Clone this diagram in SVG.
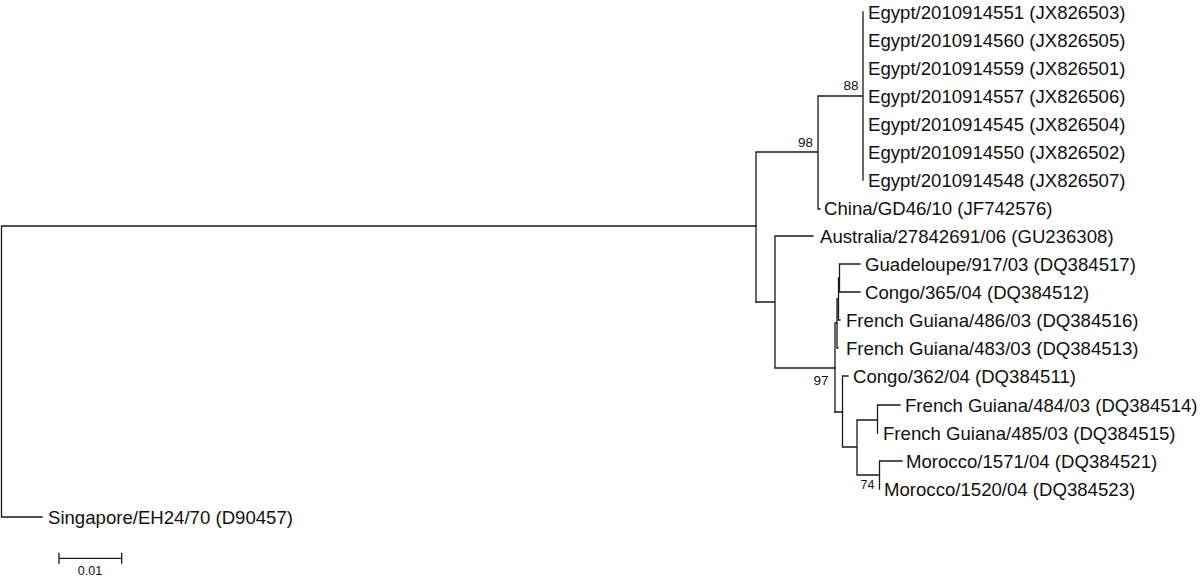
<svg xmlns="http://www.w3.org/2000/svg" width="1200" height="578" viewBox="0 0 1200 578">
<style>
.br{fill:none;stroke:#1a1a1a;stroke-width:1.3;stroke-linecap:square}
.lb{font-family:"Liberation Sans",Arial,Helvetica,sans-serif;font-size:18.6px;fill:#111}
.bs{font-family:"Liberation Sans",Arial,Helvetica,sans-serif;font-size:13.5px;fill:#111;text-anchor:end}
.sc{font-family:"Liberation Sans",Arial,Helvetica,sans-serif;font-size:12.5px;fill:#111;text-anchor:middle}
</style>
<rect width="1200" height="578" fill="#fff"/>
<g id="connectors">
<path class="br" d="M1.5,226 H756 M1.5,226 V517 H42"/>
<path class="br" d="M756,152 V302 M756,152 H818 M818,96 V209 M818,209 H820 M818,96 H863 M863,12 V180"/>
<path class="br" d="M756,302 H775 M775,236 V368 M775,236 H813 M775,368 H835"/>
<path class="br" d="M835,323 V412 M835,323 H837 M837,299 V348 M837,348 H838 M837,299 H838.5 M838.5,278 V320 M838.5,320 H840 M838.5,278 H839.5 M839.5,264 V292 M839.5,264 H860 M839.5,292 H860"/>
<path class="br" d="M835,412 H842.5 M842.5,376 V447 M842.5,376 H848 M842.5,447 H857 M857,420 V475 M857,420 H877.5 M877.5,405 V433 M877.5,405 H900 M857,475 H879.5 M879.5,461 V489 M879.5,461 H902"/>
</g>
<g id="n_egypt4551"><text class="lb" x="868" y="19">Egypt/2010914551 (JX826503)</text></g>
<g id="n_egypt4560"><text class="lb" x="868" y="47">Egypt/2010914560 (JX826505)</text></g>
<g id="n_egypt4559"><text class="lb" x="868" y="75">Egypt/2010914559 (JX826501)</text></g>
<g id="n_egypt4557"><text class="lb" x="868" y="103">Egypt/2010914557 (JX826506)</text></g>
<g id="n_egypt4545"><text class="lb" x="868" y="131">Egypt/2010914545 (JX826504)</text></g>
<g id="n_egypt4550"><text class="lb" x="868" y="159">Egypt/2010914550 (JX826502)</text></g>
<g id="n_egypt4548"><text class="lb" x="868" y="187">Egypt/2010914548 (JX826507)</text></g>
<g id="n_china"><text class="lb" x="824" y="215">China/GD46/10 (JF742576)</text></g>
<g id="n_australia"><text class="lb" x="820" y="243">Australia/27842691/06 (GU236308)</text></g>
<g id="n_guadeloupe"><text class="lb" x="865" y="271">Guadeloupe/917/03 (DQ384517)</text></g>
<g id="n_congo365"><text class="lb" x="865" y="299">Congo/365/04 (DQ384512)</text></g>
<g id="n_fg486"><text class="lb" x="846" y="327">French Guiana/486/03 (DQ384516)</text></g>
<g id="n_fg483"><text class="lb" x="846" y="355">French Guiana/483/03 (DQ384513)</text></g>
<g id="n_congo362"><text class="lb" x="853" y="383">Congo/362/04 (DQ384511)</text></g>
<g id="n_fg484"><text class="lb" x="905" y="412">French Guiana/484/03 (DQ384514)</text></g>
<g id="n_fg485"><text class="lb" x="883" y="440">French Guiana/485/03 (DQ384515)</text></g>
<g id="n_morocco1571"><text class="lb" x="906" y="468">Morocco/1571/04 (DQ384521)</text></g>
<g id="n_morocco1520"><text class="lb" x="884" y="496">Morocco/1520/04 (DQ384523)</text></g>
<g id="n_singapore"><text class="lb" x="48" y="524">Singapore/EH24/70 (D90457)</text></g>
<g id="b88"><text class="bs" x="858.5" y="90">88</text></g>
<g id="b98"><text class="bs" x="813" y="146.5">98</text></g>
<g id="b97"><text class="bs" x="828.5" y="385">97</text></g>
<g id="b74"><text class="bs" x="874.5" y="489" style="font-size:12.5px">74</text></g>
<g id="scalebar">
<path class="br" d="M59,558.3 H121.7 M59,553.5 V563 M121.7,553.5 V563"/>
<text class="sc" x="90" y="575">0.01</text>
</g>
</svg>
